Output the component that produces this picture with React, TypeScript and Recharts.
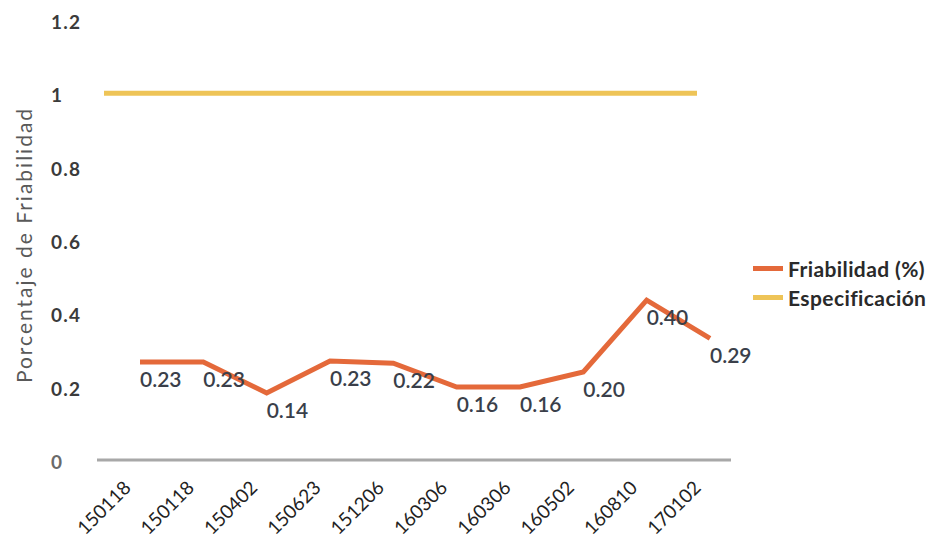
import React from 'react';
import { LineChart, Line, XAxis, YAxis, Legend, LabelList } from 'recharts';

const categories = ['150118', '150118', '150402', '150623', '151206', '160306', '160306', '160502', '160810', '170102'];
const friabilidad = [0.267, 0.267, 0.183, 0.27, 0.264, 0.199, 0.199, 0.24, 0.436, 0.332];
const friabilidadLabels = ['0.23', '0.23', '0.14', '0.23', '0.22', '0.16', '0.16', '0.20', '0.40', '0.29'];
const especificacion = [1, 1, 1, 1, 1, 1, 1, 1, 1, 1];
const yTicks = [0, 0.2, 0.4, 0.6, 0.8, 1, 1.2];

const data = categories.map((c, i) => ({
  cat: c,
  idx: i,
  fria: friabilidad[i],
  spec: especificacion[i],
}));

const FONT = 'Lato, "Open Sans", sans-serif';
const ORANGE = '#E4693A';
const YELLOW = '#EEC457';

const YTick = (props: any) => {
  const { y, payload } = props;
  const v = payload.value;
  const txt = v === 0 ? '0' : v === 1 ? '1' : String(v);
  return (
    <text x={51} y={y} dy={9} textAnchor="start" fontSize={19} fontWeight={700} letterSpacing={1.2} fill={v === 0 ? '#6a6a6a' : '#3b3b3b'} fontFamily={FONT}>
      {txt}
    </text>
  );
};

const XTick = (props: any) => {
  const { x, y, payload } = props;
  const ax = x - 8;
  const ay = y + 21;
  return (
    <text x={ax} y={ay} transform={`rotate(-45, ${ax}, ${ay})`} textAnchor="end" fontSize={19} fill="#222" fontFamily={FONT}>
      {payload.value}
    </text>
  );
};

const PointLabel = (props: any) => {
  const { x, y, index } = props;
  return (
    <text x={x} y={y + 25} textAnchor="start" fontSize={21} fontWeight={600} fill="#3a3f4a" fontFamily={FONT}>
      {friabilidadLabels[index]}
    </text>
  );
};

const LegendContent = () => (
  <div style={{ fontFamily: FONT, fontSize: 21, fontWeight: 700, color: '#2a2a2a', lineHeight: '29px', letterSpacing: 0.4 }}>
    <div style={{ display: 'flex', alignItems: 'center', whiteSpace: 'nowrap' }}>
      <span style={{ display: 'inline-block', width: 30, height: 5, background: ORANGE, marginRight: 5 }} />
      <span>Friabilidad (%)</span>
    </div>
    <div style={{ display: 'flex', alignItems: 'center', whiteSpace: 'nowrap' }}>
      <span style={{ display: 'inline-block', width: 30, height: 5, background: YELLOW, marginRight: 5 }} />
      <span>Especificación</span>
    </div>
  </div>
);

export default function App() {
  return (
    <div style={{ position: 'absolute', left: 0, top: 0, width: 930, height: 546, background: '#fff' }}>
      <LineChart width={930} height={546} data={data} margin={{ top: 20, right: 199, left: 0, bottom: 6 }}>
        <XAxis
          xAxisId="main"
          dataKey="idx"
          type="category"
          height={80}
          padding={{ left: 43, right: 21 }}
          axisLine={{ stroke: '#a8a8a8', strokeWidth: 3 }}
          tickLine={false}
          interval={0}
          tick={(p: any) => <XTick {...p} payload={{ value: categories[p.payload.value] }} />}
        />
        <XAxis xAxisId="spec" dataKey="idx" type="category" hide padding={{ left: 7, right: 34 }} />
        <YAxis
          width={97}
          domain={[0, 1.2]}
          ticks={yTicks}
          axisLine={false}
          tickLine={false}
          tick={<YTick />}
          label={{
            content: () => (
              <text x={32} y={245} transform="rotate(-90, 32, 245)" textAnchor="middle" fontSize={21} letterSpacing={2} fill="#595959" fontFamily={FONT}>
                Porcentaje de Friabilidad
              </text>
            ),
          }}
        />
        <Legend layout="horizontal" align="center" verticalAlign="middle" content={<LegendContent />} wrapperStyle={{ left: 753, top: 254, width: 177, height: 60 }} />
        <Line xAxisId="spec" dataKey="spec" stroke={YELLOW} strokeWidth={5} dot={false} isAnimationActive={false} />
        <Line xAxisId="main" dataKey="fria" stroke={ORANGE} strokeWidth={5} dot={false} isAnimationActive={false}>
          <LabelList dataKey="fria" content={<PointLabel />} />
        </Line>
      </LineChart>
    </div>
  );
}
